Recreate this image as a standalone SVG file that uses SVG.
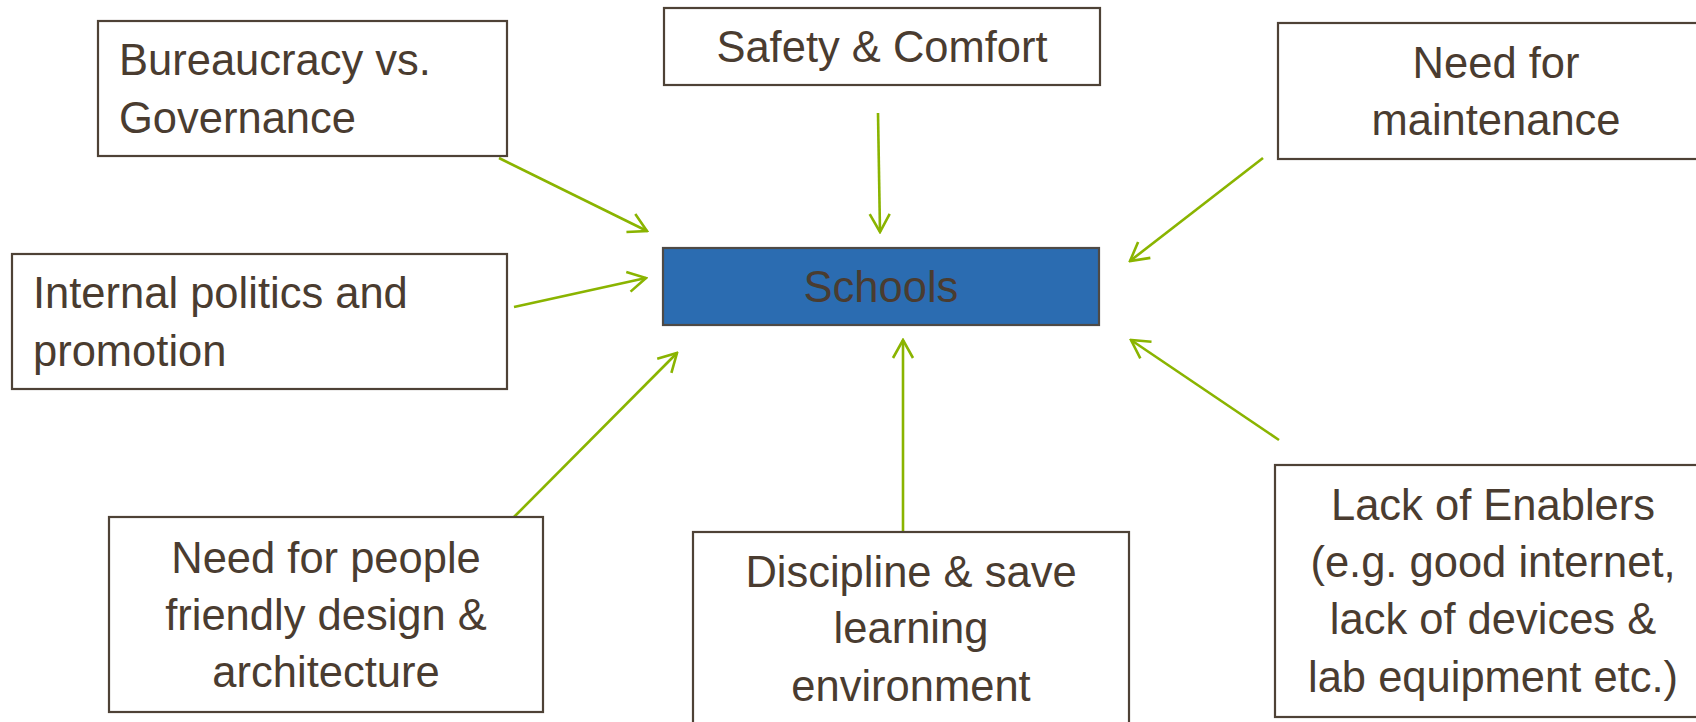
<svg xmlns="http://www.w3.org/2000/svg" width="1696" height="722" viewBox="0 0 1696 722">
<defs>
<style>
.box{fill:#ffffff;stroke:#4e4236;stroke-width:2.2}
.core{fill:#2b6cb1;stroke:#4e4a46;stroke-width:2.2}
.t{font-family:"Liberation Sans",Arial,sans-serif;font-size:43.5px;fill:#4a3c30}
.c{text-anchor:middle}
.arr{stroke:#8ab400;stroke-width:2.6;fill:none;marker-end:url(#ah)}
</style>
<marker id="ah" markerUnits="userSpaceOnUse" viewBox="-22 -13 24 26" refX="0" refY="0" markerWidth="24" markerHeight="26" orient="auto">
<path d="M-18,-10 L0,0 L-18,10" fill="none" stroke="#8ab400" stroke-width="2.6"/>
</marker>
</defs>
<rect width="1696" height="722" fill="#ffffff"/>
<g id="connectors">
<line class="arr" x1="499" y1="158" x2="647" y2="231"/>
<line class="arr" x1="514" y1="307" x2="646" y2="278"/>
<line class="arr" x1="878" y1="113" x2="880" y2="232"/>
<line class="arr" x1="1263" y1="158" x2="1130" y2="261"/>
<line class="arr" x1="1279" y1="440" x2="1131" y2="340"/>
<line class="arr" x1="903" y1="532" x2="903" y2="340"/>
<line class="arr" x1="514" y1="517" x2="677" y2="353"/>
</g>
<g id="bureaucracy">
<rect class="box" x="98" y="21" width="409" height="135"/>
<text class="t" x="119" y="75">Bureaucracy vs.</text>
<text class="t" x="119" y="133">Governance</text>
</g>
<g id="safety">
<rect class="box" x="664" y="8" width="436" height="77"/>
<text class="t c" x="882" y="62">Safety &amp; Comfort</text>
</g>
<g id="maintenance">
<rect class="box" x="1278" y="23" width="437" height="136"/>
<text class="t c" x="1496" y="78">Need for</text>
<text class="t c" x="1496" y="135">maintenance</text>
</g>
<g id="internal">
<rect class="box" x="12" y="254" width="495" height="135"/>
<text class="t" x="33" y="308">Internal politics and</text>
<text class="t" x="33" y="366">promotion</text>
</g>
<g id="schools">
<rect class="core" x="663" y="248" width="436" height="77"/>
<text class="t c" x="881" y="302">Schools</text>
</g>
<g id="people">
<rect class="box" x="109" y="517" width="434" height="195"/>
<text class="t c" x="326" y="573">Need for people</text>
<text class="t c" x="326" y="630">friendly design &amp;</text>
<text class="t c" x="326" y="687">architecture</text>
</g>
<g id="discipline">
<rect class="box" x="693" y="532" width="436" height="210"/>
<text class="t c" x="911" y="587">Discipline &amp; save</text>
<text class="t c" x="911" y="643">learning</text>
<text class="t c" x="911" y="701">environment</text>
</g>
<g id="enablers">
<rect class="box" x="1275" y="465" width="437" height="252"/>
<text class="t c" x="1493" y="520">Lack of Enablers</text>
<text class="t c" x="1493" y="577">(e.g. good internet,</text>
<text class="t c" x="1493" y="634">lack of devices &amp;</text>
<text class="t c" x="1493" y="692">lab equipment etc.)</text>
</g>
</svg>
